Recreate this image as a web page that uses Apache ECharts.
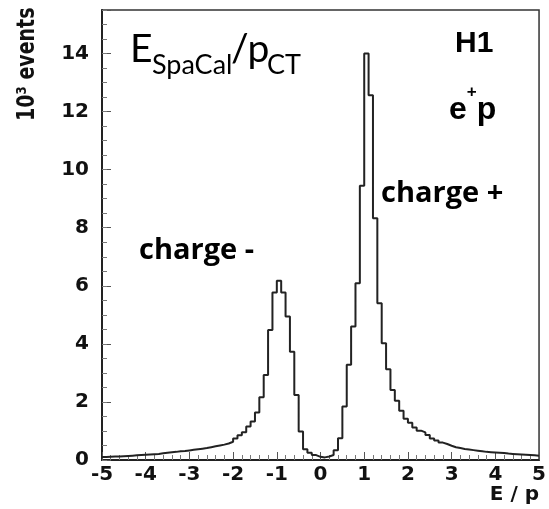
<!DOCTYPE html>
<html><head><meta charset="utf-8">
<script src="https://cdn.jsdelivr.net/npm/echarts@6/dist/echarts.min.js"></script>
<style>html,body{margin:0;padding:0;background:#fff}#c{width:549px;height:509px}</style>
</head><body><div id="c"></div>
<script>
// Histogram of E/p: 100 bins of width 0.1 from -5 to 5, values in 10^3 events
const binStart = -5;
const binWidth = 0.1;
const counts = [
  0.10,0.11,0.12,0.12,0.13,0.14,0.15,0.16,0.17,0.18,
  0.19,0.20,0.21,0.23,0.25,0.27,0.28,0.30,0.31,0.33,
  0.35,0.37,0.39,0.41,0.44,0.47,0.50,0.53,0.57,0.63,
  0.74,0.85,0.96,1.15,1.33,1.64,2.16,2.93,4.48,5.77,
  6.17,5.77,4.94,3.73,2.24,0.98,0.37,0.25,0.17,0.11,
  0.09,0.12,0.17,0.34,0.75,1.84,3.28,4.60,6.09,9.45,
  14.0,12.56,8.33,5.40,4.02,3.13,2.41,2.04,1.70,1.42,
  1.28,1.12,1.01,0.95,0.86,0.74,0.67,0.60,0.55,0.49,
  0.44,0.41,0.38,0.36,0.34,0.32,0.30,0.28,0.27,0.26,
  0.25,0.24,0.22,0.21,0.20,0.19,0.18,0.17,0.16,0.15
];
const xRange = [-5, 5];
const yRange = [0, 15.5];

const data = counts.map((v, i) => [+(binStart + i * binWidth).toFixed(2), v]);
data.push([+(binStart + counts.length * binWidth).toFixed(2), counts[counts.length - 1]]);

const tickFont = {fontFamily: '"DejaVu Sans"', fontWeight: 'bold', fontSize: 20, color: '#111'};

const chart = echarts.init(document.getElementById('c'), null, {renderer: 'canvas'});
chart.setOption({
  animation: false,
  backgroundColor: '#fff',
  grid: {left: 102, right: 7, top: 10, bottom: 49, show: true, borderColor: '#333', borderWidth: 1.5, backgroundColor: 'transparent'},
  xAxis: {
    type: 'value', min: xRange[0], max: xRange[1], interval: 1,
    axisLine: {show: true, onZero: false, lineStyle: {color: '#222', width: 2}},
    axisTick: {show: true, inside: true, length: 8, lineStyle: {color: '#555', width: 1}},
    minorTick: {show: true, splitNumber: 5, length: 5, lineStyle: {color: '#777', width: 1}},
    axisLabel: Object.assign({margin: 5}, tickFont),
    splitLine: {show: false},
    name: 'E / p', nameLocation: 'end', nameGap: 0,
    nameTextStyle: Object.assign({align: 'right', verticalAlign: 'top', padding: [25, 0, 0, 0]}, tickFont)
  },
  yAxis: [{
    type: 'value', min: yRange[0], max: yRange[1], interval: 2, position: 'left',
    axisLine: {show: true, onZero: false, lineStyle: {color: '#222', width: 2}},
    axisTick: {show: true, inside: true, length: 9, lineStyle: {color: '#555', width: 1}},
    axisLabel: Object.assign({margin: 13, formatter: v => (v % 2 === 0 && v <= 14) ? String(v) : ''}, tickFont),
    splitLine: {show: false}
  }, {
    type: 'value', min: yRange[0], max: yRange[1], interval: 0.5, position: 'left', offset: 0,
    axisLine: {show: false, onZero: false},
    axisTick: {show: true, inside: true, length: 5, lineStyle: {color: '#777', width: 1}},
    axisLabel: {show: false},
    splitLine: {show: false}
  }],
  series: [{
    type: 'line', step: 'end', data: data, symbol: 'none',
    lineStyle: {color: '#222', width: 2}, clip: true
  }],
  graphic: [
    {type: 'text', x: 40, y: 121, rotation: Math.PI / 2, scaleY: 1.3,
     style: {text: '10³ events', font: 'bold 19px "DejaVu Sans"', fill: '#111', align: 'left', verticalAlign: 'bottom'}},
    {type: 'text', x: 130, y: 30, style: {text: 'E', font: '39px Lato', fill: '#000', align: 'left', verticalAlign: 'top'}},
    {type: 'text', x: 152, y: 52, style: {text: 'SpaCal', font: '27px Lato', fill: '#000', align: 'left', verticalAlign: 'top'}},
    {type: 'text', x: 231, y: 30, style: {text: '/p', font: '39px Lato', fill: '#000', align: 'left', verticalAlign: 'top'}},
    {type: 'text', x: 267, y: 52, style: {text: 'CT', font: '27px Lato', fill: '#000', align: 'left', verticalAlign: 'top'}},
    {type: 'text', x: 455, y: 29, style: {text: 'H1', font: 'bold 30px "Liberation Sans"', fill: '#000', align: 'left', verticalAlign: 'top'}},
    {type: 'text', x: 449, y: 84, style: {
      text: '{a|e}{s|+}{a|p}', fill: '#000', align: 'left', verticalAlign: 'top',
      rich: {
        a: {fontSize: 32, fontFamily: '"Liberation Sans"', fontWeight: 'bold', lineHeight: 42, verticalAlign: 'bottom'},
        s: {fontSize: 17, fontFamily: '"Liberation Sans"', fontWeight: 'bold', lineHeight: 17, verticalAlign: 'top'}
      }}},
    {type: 'text', x: 139, y: 236, style: {text: 'charge -', font: 'bold 29px "Open Sans"', fill: '#000', align: 'left', verticalAlign: 'top'}},
    {type: 'text', x: 381, y: 179, style: {text: 'charge +', font: 'bold 29px "Open Sans"', fill: '#000', align: 'left', verticalAlign: 'top'}}
  ]
});
</script></body></html>
